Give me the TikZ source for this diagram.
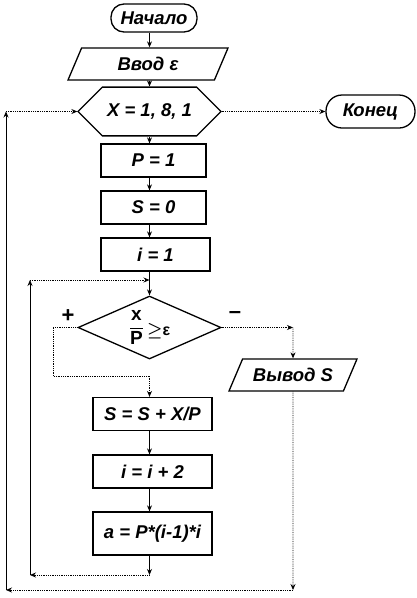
\documentclass[tikz,border=0pt]{standalone}
\usepackage{amsmath}
\usepackage{fontspec}
\setmainfont{Liberation Sans}
\usetikzlibrary{positioning,arrows.meta,shapes.geometric,shapes.misc,calc}

\begin{document}
\begin{tikzpicture}[x=1pt,y=-1pt,font=\fontsize{18.5}{20}\selectfont\bfseries\itshape,>={Stealth[length=6pt,width=5pt]},
  blk/.style={draw,line width=1.3pt,minimum height=33pt,inner sep=0pt},
  term/.style={blk,rounded corners=13pt},
  io/.style={blk,trapezium,trapezium left angle=45,trapezium right angle=135,trapezium stretches body},
  hexa/.style={blk,chamfered rectangle,chamfered rectangle xsep=15pt,chamfered rectangle ysep=16.5pt},
  dec/.style={blk,diamond,aspect=2.3},
  fl/.style={->,line width=0.8pt},
  lp/.style={->,line width=0.8pt,densely dotted}]
\useasboundingbox (0,0) rectangle (416,598);
\node[term,minimum width=86pt,minimum height=28pt] (beg) at (154,18) {Начало};
\node[io,minimum width=160pt,minimum height=32pt] (inp) at (148,64) {Ввод ε};
\node[hexa,minimum width=143pt] (loop) at (149.5,111.5) {X = 1, 8, 1};
\node[term,rounded corners=16pt,minimum width=89pt] (fin) at (370.5,111.5) {Конец};
\foreach \n/\t/\x/\y/\w in {p/{P = 1}/153.5/160.5/105, s/{S = 0}/153.5/207.5/105, i/{i = 1}/155.5/254.5/109,
  sum/{S = S + X/P}/152.5/414/119, inc/{i = i + 2}/152.5/471.5/119}
  \node[blk,minimum width=\w pt] (\n) at (\x,\y) {\t};
\node[blk,minimum width=119pt,minimum height=43pt] (a) at (152.5,533.5) {a = P*(i-1)*i};
\node[dec,minimum width=143pt,minimum height=63pt] (cond) at (149.5,327.5)
  {\normalfont\fontsize{19}{21}\selectfont$\dfrac{\textbf{x}}{\textbf{P}}$\,\raisebox{-3pt}{\fontsize{16}{18}\selectfont$\boldsymbol{\geq}$\textbf{ε}}};
\node[io,minimum width=128pt,minimum height=32pt] (out) at (293,375) {Вывод S};
\node[font=\fontsize{22}{22}\selectfont\bfseries] (plus) at (68,316) {+};
\node[font=\fontsize{22}{22}\selectfont\bfseries] (minus) at (235,315) {–};
\coordinate (col) at (loop.south);
\draw[fl] (col |- beg.south) -- (col |- inp.north);
\draw[fl] (col |- inp.south) -- (loop.north);
\draw[lp] (loop.south) -- (col |- p.north);
\foreach \a/\b in {p/s,s/i,sum/inc,inc/a} \draw[fl] (col |- \a.south) -- (col |- \b.north);
\draw[fl] (col |- i.south) -- (cond.north);
\draw[lp] (loop.east) -- (fin.west);
\coordinate (ib) at (149.5,575);
\coordinate (il) at (30,575);
\coordinate (it) at (30,280);
\coordinate (ij) at (149.5,280);
\draw[fl] (col |- a.south) -- (ib);
\draw[lp] (ib) -- (il);
\draw[fl] (il) -- (it);
\draw[lp] (it) -- (ij);
\coordinate (pl1) at (53,327.5);
\coordinate (pl2) at (53,376);
\coordinate (pl3) at (149.5,376);
\draw[lp] (cond.west) -- (pl1) -- (pl2) -- (pl3) -- (col |- sum.north);
\coordinate (mn) at (293,327.5);
\draw[lp] (cond.east) -- (mn);
\draw[lp] (mn) -- (out.north);
\coordinate (ob) at (293,590);
\coordinate (ol) at (6,590);
\coordinate (ot) at (6,111.5);
\draw[lp] (out.south) -- (ob);
\draw[lp] (ob) -- (ol);
\draw[fl] (ol) -- (ot);
\draw[lp] (ot) -- (loop.west);
\end{tikzpicture}
\end{document}
